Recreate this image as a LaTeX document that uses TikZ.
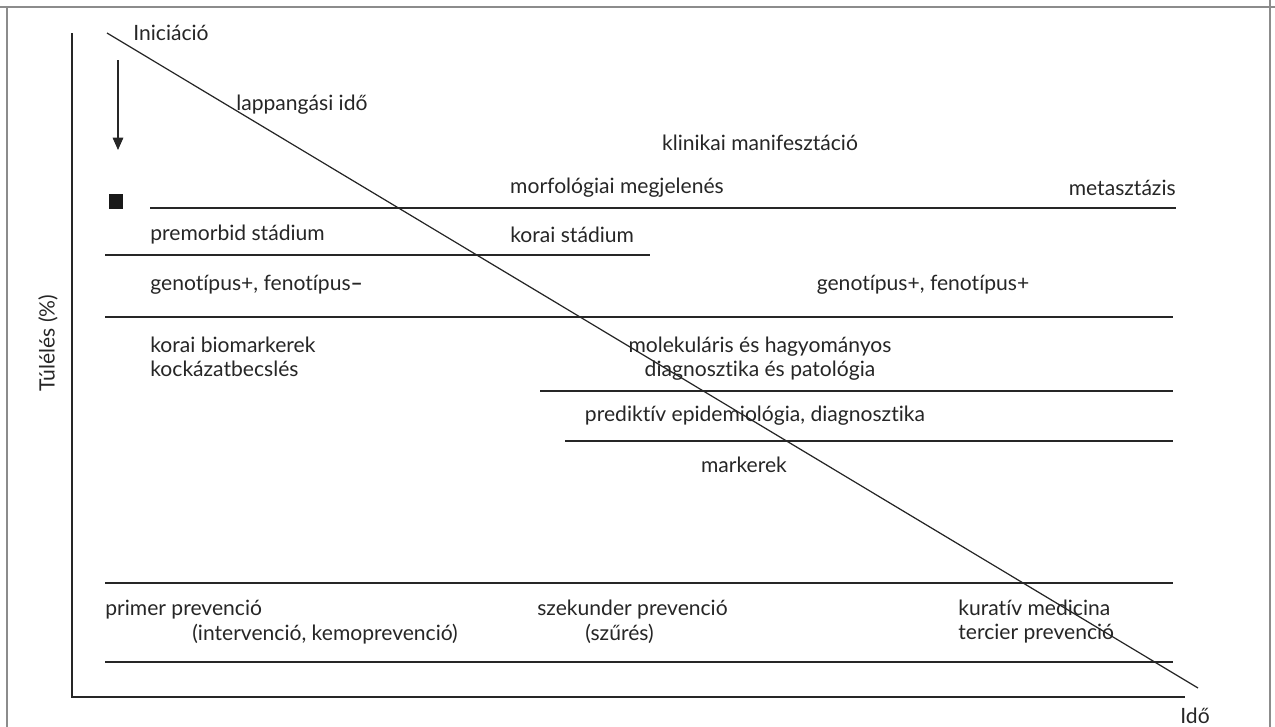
\documentclass[tikz,border=0pt]{standalone}
\usepackage{fontspec}
\setmainfont[Ligatures=NoCommon]{Lato}
\usetikzlibrary{arrows.meta,positioning}

\begin{document}
\begin{tikzpicture}[
    x=0.02cm, y=-0.02cm,
    >={Triangle[length=7pt,width=6pt]},
    lbl/.style={inner sep=0pt, font=\fontsize{12}{13.5}\selectfont, text=black!85},
    two/.style={lbl, align=left},
    rule/.style={line width=0.7pt, color=black!85},
    frame/.style={line width=1.2pt, color=black!45}
]
    \useasboundingbox (0,0) rectangle (1275,727);
    % outer frame
    \draw[frame] (0,7) -- (1275,7);
    \draw[frame] (7,7) -- (7,727);
    \draw[frame] (1270,0) -- (1270,727);
    % axes
    \coordinate (ytop) at (72,33);
    \coordinate (orig) at (72,697);
    \coordinate (xend) at (1185,697);
    \draw[rule] (ytop) -- (orig) -- (xend);
    \node[lbl, rotate=90] (surv) at (48,343) {Túlélés (\%)};
    \node[lbl, anchor=west] (time) at (1180,716) {Idő};
    % survival line
    \coordinate (dstart) at (107,33);
    \coordinate (dend) at (1198,688);
    \draw[rule] (dstart) -- (dend);
    \node[lbl, anchor=west] (init) at (133,33) {Iniciáció};
    \coordinate (atop) at (118,60);
    \coordinate (abot) at (118,150);
    \draw[rule, ->] (atop) -- (abot);
    \node[fill=black!90, inner sep=0pt, minimum width=0.3cm, minimum height=0.3cm] (onset) at (116,201) {};
    \node[lbl, anchor=west] (latent) at (236,105) {lappangási idő};
    \node[lbl] (clin) at (760,143) {klinikai manifesztáció};
    % stages
    \node[lbl] (morph) at (617,188) {morfológiai megjelenés};
    \node[lbl, anchor=east] (meta) at (1176,188) {metasztázis};
    \draw[rule] (150,208) -- (1176,208);
    \node[lbl, anchor=west] (premorb) at (150,235) {premorbid stádium};
    \node[lbl, anchor=west] (early) at (510,235) {korai stádium};
    \draw[rule] (105,255) -- (650,255);
    \node[lbl, anchor=west] (genneg) at (150,285) {genotípus+, fenotípus\textbf{–}};
    \node[lbl] (genpos) at (923,285) {genotípus+, fenotípus+};
    \draw[rule] (105,317) -- (1173,317);
    % diagnostics
    \node[two, anchor=north west] (biomark) at (150,337) {korai biomarkerek\\kockázatbecslés};
    \node[lbl, align=center, anchor=north] (molec) at (760,337) {molekuláris és hagyományos\\diagnosztika és patológia};
    \draw[rule] (540,391) -- (1173,391);
    \node[lbl] (predict) at (755,416) {prediktív epidemiológia, diagnosztika};
    \draw[rule] (565,441) -- (1173,441);
    \node[lbl] (mark) at (744,465) {markerek};
    % prevention
    \draw[rule] (105,583) -- (1173,583);
    \node[lbl, anchor=west] (prim) at (105,610) {primer prevenció};
    \node[lbl, anchor=west] (primsub) at (192,634) {(intervenció, kemoprevenció)};
    \node[lbl, anchor=west] (sec) at (537,610) {szekunder prevenció};
    \node[lbl, anchor=west] (secsub) at (585,634) {(szűrés)};
    \node[two, anchor=north west] (tert) at (958,600) {kuratív medicina\\tercier prevenció};
    \draw[rule] (105,662) -- (1173,662);
\end{tikzpicture}
\end{document}
